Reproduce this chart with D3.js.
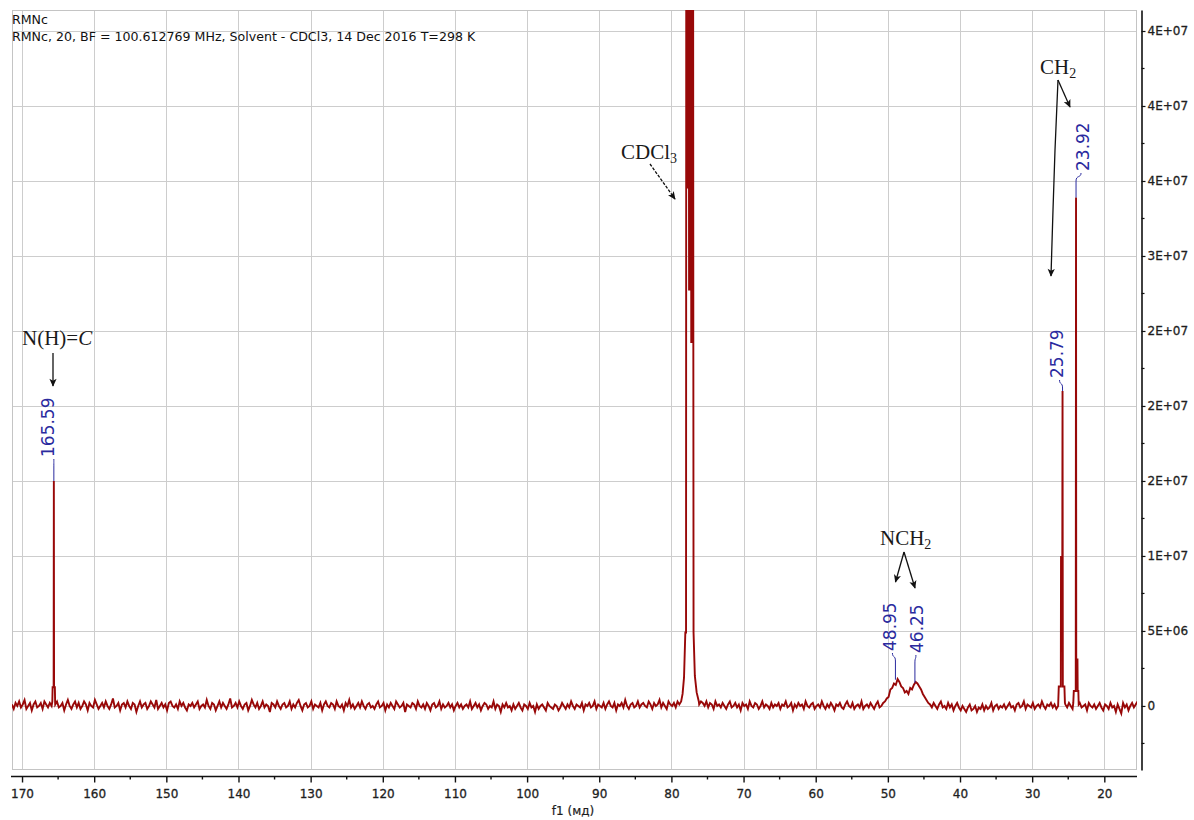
<!DOCTYPE html>
<html><head><meta charset="utf-8">
<script src="https://cdn.jsdelivr.net/npm/d3@7"></script>
<style>body{margin:0;background:#fff}svg{display:block}</style>
</head><body><svg id="c" width="1194" height="820"></svg>
<script>
// ---------------- DATA ----------------
const titleLines = ["RMNc", "RMNc, 20, BF = 100.612769 MHz, Solvent - CDCl3, 14 Dec 2016 T=298 K"];
const xAxisTitle = "f1 (мд)";
const xTicks = [170,160,150,140,130,120,110,100,90,80,70,60,50,40,30,20];
const xMinorTicks = [165,155,145,135,125,115,105,95,85,75,65,55,45,35,25];
const yTickValues = [0,5e6,1e7,1.5e7,2e7,2.5e7,3e7,3.5e7,4e7,4.5e7];
const yTickLabels = ["0","5E+06","1E+07","2E+07","2E+07","2E+07","3E+07","4E+07","4E+07","4E+07"];
const yMinorTicks = [-2.5e6,2.5e6,7.5e6,1.25e7,1.75e7,2.25e7,2.75e7,3.25e7,3.75e7,4.25e7];

// baseline (noise + broad NCH2 bump), sampled every 0.25 ppm from 171.4 ppm, in units of 1e5
const baseStartPpm = 171.4, baseStepPpm = 0.25, NOISE_UNIT = 1e5;
const baseline = [
1,-2,2,0,3,-1,1,4,-2,0,2,-3,1,3,-1,0,2,-2,3,1,-1,2,0,null,1,
3,-1,0,2,-3,1,4,0,-2,1,3,-1,2,-2,0,3,1,-3,2,0,-1,4,1,-2,0,
2,-1,3,0,-2,1,5,-1,0,2,-3,1,2,-1,3,0,-2,2,1,-4,0,3,-1,1,2,
-2,0,3,1,-1,4,-2,0,2,-1,1,-3,2,3,0,-1,1,-2,3,0,2,-1,-3,1,0,
2,-1,1,3,-2,0,1,-1,4,0,-2,2,1,-3,0,3,-1,2,0,-2,1,5,-1,0,2,
-1,3,0,-2,1,2,-3,0,4,1,-1,2,-2,0,3,-1,1,0,-4,2,1,-1,3,0,-2,
1,2,-1,0,3,-2,1,-1,2,4,0,-3,1,2,-1,0,3,-2,1,0,-1,2,-3,1,3,
0,-1,2,1,-2,3,0,-1,1,-3,2,0,4,-1,1,-2,0,2,-1,3,0,-2,1,2,-1,
0,-2,1,3,-1,0,2,-3,1,-1,2,0,-2,3,1,-1,0,2,-4,1,0,-1,2,1,-2,
3,0,-1,1,-2,2,0,-3,1,2,-1,0,3,-2,1,-1,0,2,-1,1,-3,0,2,-1,1,
-2,0,1,-1,3,-2,0,2,-1,1,-3,0,2,1,-2,0,-1,3,-2,1,0,-4,1,-1,2,
-1,0,-3,1,-2,0,2,-1,-3,1,0,-2,2,-1,0,-4,1,-2,0,1,-1,-3,2,0,-1,
-2,1,0,-3,-1,2,0,-2,1,-1,3,0,-2,1,0,-1,2,-3,1,0,2,-1,0,3,-2,
1,0,-1,2,-2,1,3,0,-1,2,-3,1,0,2,-1,4,0,-2,1,2,-1,0,3,-1,1,
2,0,-1,3,1,-2,2,0,1,4,-1,2,0,-2,3,1,0,2,-1,3,1,3,null,null,null,
null,null,null,null,null,null,1,3,2,0,3,-1,2,1,-2,3,0,1,-1,2,0,-2,1,3,-1,
0,2,-1,1,-3,2,0,1,-2,3,0,-1,2,1,-2,0,3,-1,1,0,-2,2,-1,1,0,
2,-2,1,0,3,-1,0,2,-3,1,-1,2,0,1,-2,3,0,-1,1,2,-2,0,1,-1,3,
0,-2,1,-1,2,0,-3,1,0,2,-1,-2,1,3,0,-1,2,-2,0,1,-1,3,-2,0,1,
-1,2,0,-2,1,3,-1,0,2,3,5,6,11,12,15,14,18,16,13,12,9,10,8,12,11,
14,16,15,13,11,8,6,4,2,1,-1,2,0,-2,1,3,-1,0,-2,2,-1,1,-3,0,2,
-1,-3,0,-2,-4,-1,1,-3,-2,0,-4,-1,-2,1,-3,0,-2,-1,2,-3,0,1,-2,0,-1,
1,-2,0,2,-1,0,-3,1,2,-1,0,3,-2,1,0,-1,2,-2,0,1,-1,3,0,-2,1,
0,2,-1,1,-2,0,null,null,null,1,-1,2,0,-2,null,null,null,2,-1,0,1,-3,2,0,-1,
1,-2,0,2,-1,-3,1,0,-2,2,-1,0,-4,1,-2,-5,2,-1,1,-3,0,2,-1,1,3
];

// sharp lines: [ppm, intensity in 1e6]
const PEAK_UNIT = 1e6;
const peakCN = [[165.80,0.3],[165.76,1.25],[165.62,1.25],[165.59,15.0],[165.56,1.25],[165.45,1.25],[165.41,0.2]];
const peakCDCl3 = [[78.45,0.8],[78.25,1.9],[78.07,4.9],[77.97,4.9],[77.93,70],[77.76,70],[77.70,34.5],[77.62,70],
                   [77.55,27.7],[77.50,70],[77.45,27.7],[77.40,70],[77.35,27.7],[77.30,70],[77.25,24.2],[77.20,70],
                   [77.15,24.2],[77.10,70],[77.05,24.2],[77.00,60],[76.96,24.2],[76.93,4.9],[76.75,2.0],[76.50,0.9],[76.20,0.3]];
const peakCH2a = [[26.38,0.3],[26.31,1.3],[26.03,1.3],[26.00,10.0],[25.90,8.0],[25.83,8.0],[25.79,21.0],[25.75,1.3],[25.53,1.3],[25.46,0.2]];
const peakCH2b = [[24.30,0.2],[24.23,1.0],[23.96,1.0],[23.92,33.9],[23.89,3.1],[23.72,3.1],[23.69,1.0],[23.60,1.0],[23.55,0.1]];

// peak labels
const labelPpm = [165.59, 48.95, 46.25, 25.79, 23.92];
const labelTop = [15.0e6, 1.75e6, 1.55e6, 21.0e6, 33.9e6];

// ---------------- LAYOUT ----------------
const plot = {left:12, right:1137, top:10, bottom:770};
const svg = d3.select('#c');
const x = d3.scaleLinear().domain([171.39, 15.47]).range([plot.left, plot.right]);
const y = d3.scaleLinear().domain([-4.27e6, 46.4e6]).range([plot.bottom, plot.top]);
const crisp = v => Math.round(v) + 0.5;

const defs = svg.append('defs');
defs.append('clipPath').attr('id','clip').append('rect')
  .attr('x',plot.left).attr('y',plot.top).attr('width',plot.right-plot.left).attr('height',plot.bottom-plot.top);
defs.append('marker').attr('id','arr').attr('viewBox','0 0 10 10').attr('refX',9).attr('refY',5)
  .attr('markerWidth',9).attr('markerHeight',8).attr('markerUnits','userSpaceOnUse').attr('orient','auto')
  .append('path').attr('d','M0,0.5 L10,5 L0,9.5 L2.5,5 Z').attr('fill','#111');

// grid
const grid = svg.append('g').attr('stroke','#cdcdcd').attr('stroke-width',1);
grid.selectAll('.vx').data(xTicks).join('line')
  .attr('x1',d=>crisp(x(d))).attr('x2',d=>crisp(x(d))).attr('y1',plot.top).attr('y2',plot.bottom);
grid.selectAll('.hy').data(yTickValues).join('line')
  .attr('y1',d=>crisp(y(d))).attr('y2',d=>crisp(y(d))).attr('x1',plot.left).attr('x2',plot.right);
svg.append('rect').attr('x',plot.left+0.5).attr('y',plot.top+0.5)
  .attr('width',plot.right-plot.left-1).attr('height',plot.bottom-plot.top-1)
  .attr('fill','none').attr('stroke','#c4c4c4');

// title
svg.append('g').attr('font-family','DejaVu Sans, Verdana, sans-serif').attr('font-size',12.6).attr('fill','#111')
  .selectAll('text').data(titleLines).join('text')
  .attr('x',12).attr('y',(d,i)=>24+i*16.5).text(d=>d);

// spectrum
const pts = [];
baseline.forEach((v,i)=>{ if(v!==null) pts.push([baseStartPpm - i*baseStepPpm, v*NOISE_UNIT]); });
[peakCN, peakCDCl3, peakCH2a, peakCH2b].forEach(p=>p.forEach(([pp,v])=>pts.push([pp, v*PEAK_UNIT])));
pts.sort((a,b)=>b[0]-a[0]);
svg.append('path').datum(pts).attr('clip-path','url(#clip)')
  .attr('d', d3.line().x(d=>x(d[0])).y(d=>y(d[1])))
  .attr('fill','none').attr('stroke','#980808').attr('stroke-width',1.9).attr('stroke-linejoin','miter');

// x axis
const axY = 776.5;
const gx = svg.append('g').attr('transform',`translate(0,${axY})`)
  .call(d3.axisBottom(x).tickValues(xTicks).tickSize(6).tickSizeOuter(0).tickPadding(7).tickFormat(d3.format('d')));
gx.select('.domain').remove();
gx.append('line').attr('x1',11).attr('x2',1137).attr('stroke','#111').attr('stroke-width',1.6);
gx.selectAll('.tick line').attr('stroke','#111').attr('stroke-width',1.4);
gx.selectAll('.tick text').attr('font-family','DejaVu Sans, Verdana, sans-serif').attr('font-size',12)
  .attr('fill','#1e1e1e').attr('stroke','#1e1e1e').attr('stroke-width',0.3);
gx.selectAll('.minor').data(xMinorTicks).join('line').attr('class','minor')
  .attr('x1',d=>x(d)).attr('x2',d=>x(d)).attr('y1',0).attr('y2',3).attr('stroke','#111').attr('stroke-width',1.4);
svg.append('text').attr('x',573).attr('y',815).attr('text-anchor','middle')
  .attr('font-family','DejaVu Sans, Verdana, sans-serif').attr('font-size',12).attr('fill','#1e1e1e')
  .attr('stroke','#1e1e1e').attr('stroke-width',0.2).text(xAxisTitle);

// y axis
const axX = 1141.5;
const gy = svg.append('g').attr('transform',`translate(${axX},0)`)
  .call(d3.axisRight(y).tickValues(yTickValues).tickFormat((d,i)=>yTickLabels[i]).tickSize(4).tickSizeOuter(0).tickPadding(2));
gy.select('.domain').attr('stroke','#111').attr('stroke-width',1.6);
gy.selectAll('.tick line').attr('stroke','#111').attr('stroke-width',1.2);
gy.selectAll('.tick text').attr('font-family','DejaVu Sans, Verdana, sans-serif').attr('font-size',12)
  .attr('fill','#1e1e1e').attr('stroke','#1e1e1e').attr('stroke-width',0.3);
gy.selectAll('.minor').data(yMinorTicks).join('line').attr('class','minor')
  .attr('y1',d=>y(d)).attr('y2',d=>y(d)).attr('x1',0).attr('x2',3).attr('stroke','#111').attr('stroke-width',1.2);

// peak labels
const labelLayout = [
  {dx:0, bottom:457, s:0},
  {dx:1, bottom:651, s:-3},
  {dx:8, bottom:653, s:1},
  {dx:0, bottom:378, s:-3},
  {dx:13, bottom:171, s:5}
];
const lab = svg.append('g');
labelPpm.forEach((p,i)=>{
  const L = labelLayout[i], px = x(p), top = y(labelTop[i]), bx = px + L.dx, sx = px + L.s, yb = L.bottom;
  lab.append('text').attr('transform',`translate(${bx},${yb}) rotate(-90)`)
    .attr('font-family','DejaVu Sans, Verdana, sans-serif').attr('font-size',17).attr('fill','#2a2a9e')
    .text(d3.format('.2f')(p));
  lab.append('path')
    .attr('d',`M${sx},${yb+2} C${sx},${yb+7} ${px},${yb+4} ${px},${yb+10} L${px},${top}`)
    .attr('fill','none').attr('stroke','#2a2a9e').attr('stroke-width',1);
});

// annotations
const ann = svg.append('g').attr('font-family','Liberation Serif, Times New Roman, serif').attr('font-size',21).attr('fill','#1a1a1a');
const t1 = ann.append('text').attr('x',22).attr('y',345);
t1.append('tspan').text('N(H)=');
t1.append('tspan').attr('font-style','italic').text('C');
const t2 = ann.append('text').attr('x',621).attr('y',159);
t2.append('tspan').text('CDCl');
t2.append('tspan').attr('font-size',14).attr('dy',4).text('3');
const t3 = ann.append('text').attr('x',880).attr('y',545);
t3.append('tspan').text('NCH');
t3.append('tspan').attr('font-size',14).attr('dy',4).text('2');
const t4 = ann.append('text').attr('x',1040).attr('y',74);
t4.append('tspan').text('CH');
t4.append('tspan').attr('font-size',14).attr('dy',4).text('2');

const arrows = [
  {pts:[[53,353],[53,386]], dash:null},
  {pts:[[650,164],[675,199]], dash:'3,1.5'},
  {pts:[[904,552],[895.5,582]], dash:null},
  {pts:[[904,552],[915,588]], dash:null},
  {pts:[[1058,80],[1070,107]], dash:null},
  {pts:[[1058,80],[1055,150],[1053,210],[1051,276]], dash:null}
];
arrows.forEach(a=>{
  svg.append('path').attr('d', d3.line()(a.pts)).attr('fill','none').attr('stroke','#111')
    .attr('stroke-width',1.3).attr('stroke-dasharray',a.dash).attr('marker-end','url(#arr)');
});
</script></body></html>
